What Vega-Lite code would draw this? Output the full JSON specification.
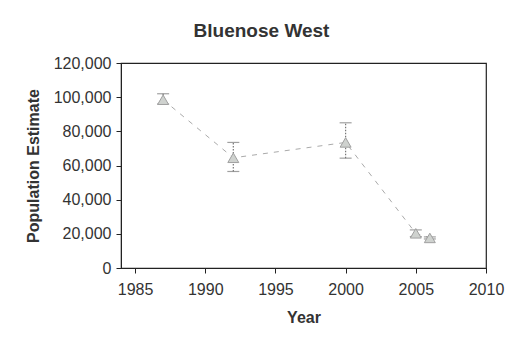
{
  "$schema": "https://vega.github.io/schema/vega-lite/v6.json",
  "autosize": {"type": "none"},
  "padding": {"left": 121, "top": 63, "right": 30, "bottom": 73},
  "width": 365,
  "height": 205,
  "background": "white",
  "title": {"text": "Bluenose West", "font": "Liberation Sans", "fontSize": 19, "fontWeight": "bold", "color": "#333", "anchor": "middle", "dx": -42, "offset": 14},
  "config": {
    "view": {"stroke": "#222", "strokeWidth": 1.2},
    "axis": {"labelFont": "Liberation Sans", "titleFont": "Liberation Sans", "labelFontSize": 16, "titleFontSize": 16, "labelColor": "#333", "titleColor": "#333", "grid": false, "domainColor": "#222", "tickColor": "#222", "tickSize": 5, "labelOverlap": false, "labelFlush": false}
  },
  "data": {"values": [
    {"year": 1987, "estimate": 98500, "lower": 96000, "upper": 102000},
    {"year": 1992, "estimate": 64500, "lower": 56500, "upper": 73500},
    {"year": 2000, "estimate": 73500, "lower": 64300, "upper": 85000},
    {"year": 2005, "estimate": 20300, "lower": 18400, "upper": 22300},
    {"year": 2006, "estimate": 17600, "lower": 17000, "upper": 18200}
  ]},
  "layer": [
    {
      "mark": {"type": "line", "color": "#aaa", "strokeWidth": 1, "strokeDash": [5, 6]},
      "encoding": {
        "x": {"field": "year", "type": "quantitative", "scale": {"domain": [1985, 2010]}, "axis": {"values": [1985, 1990, 1995, 2000, 2005, 2010], "labelExpr": "format(datum.value, 'd')", "title": "Year", "titlePadding": 12, "labelPadding": 8, "labelOverlap": false}},
        "y": {"field": "estimate", "type": "quantitative", "scale": {"domain": [0, 120000]}, "axis": {"values": [0, 20000, 40000, 60000, 80000, 100000, 120000], "labelExpr": "format(datum.value, ',')", "title": "Population Estimate", "titlePadding": 12, "labelPadding": 5, "labelOverlap": false}}
      }
    },
    {
      "mark": {"type": "rule", "color": "#777", "strokeWidth": 1.2, "strokeDash": [1.5, 1.5]},
      "encoding": {
        "x": {"field": "year", "type": "quantitative", "axis": {"values": [1985, 1990, 1995, 2000, 2005, 2010], "labelExpr": "format(datum.value, 'd')", "title": "Year", "titlePadding": 12, "labelPadding": 8, "labelOverlap": false}},
        "y": {"field": "lower", "type": "quantitative", "axis": {"values": [0, 20000, 40000, 60000, 80000, 100000, 120000], "labelExpr": "format(datum.value, ',')", "title": "Population Estimate", "titlePadding": 12, "labelPadding": 5, "labelOverlap": false}},
        "y2": {"field": "upper"}
      }
    },
    {
      "mark": {"type": "tick", "orient": "horizontal", "color": "#777", "size": 12, "thickness": 1.2, "strokeDash": [1.5, 1.5]},
      "encoding": {
        "x": {"field": "year", "type": "quantitative", "axis": {"values": [1985, 1990, 1995, 2000, 2005, 2010], "labelExpr": "format(datum.value, 'd')", "title": "Year", "titlePadding": 12, "labelPadding": 8, "labelOverlap": false}},
        "y": {"field": "lower", "type": "quantitative", "axis": {"values": [0, 20000, 40000, 60000, 80000, 100000, 120000], "labelExpr": "format(datum.value, ',')", "title": "Population Estimate", "titlePadding": 12, "labelPadding": 5, "labelOverlap": false}}
      }
    },
    {
      "mark": {"type": "tick", "orient": "horizontal", "color": "#777", "size": 12, "thickness": 1.2, "strokeDash": [1.5, 1.5]},
      "encoding": {
        "x": {"field": "year", "type": "quantitative", "axis": {"values": [1985, 1990, 1995, 2000, 2005, 2010], "labelExpr": "format(datum.value, 'd')", "title": "Year", "titlePadding": 12, "labelPadding": 8, "labelOverlap": false}},
        "y": {"field": "upper", "type": "quantitative", "axis": {"values": [0, 20000, 40000, 60000, 80000, 100000, 120000], "labelExpr": "format(datum.value, ',')", "title": "Population Estimate", "titlePadding": 12, "labelPadding": 5, "labelOverlap": false}}
      }
    },
    {
      "mark": {"type": "point", "shape": "triangle-up", "size": 120, "filled": true, "fill": "#cfd2cf", "stroke": "#a0a0a0", "strokeWidth": 1, "opacity": 1},
      "encoding": {
        "x": {"field": "year", "type": "quantitative", "axis": {"values": [1985, 1990, 1995, 2000, 2005, 2010], "labelExpr": "format(datum.value, 'd')", "title": "Year", "titlePadding": 12, "labelPadding": 8, "labelOverlap": false}},
        "y": {"field": "estimate", "type": "quantitative", "axis": {"values": [0, 20000, 40000, 60000, 80000, 100000, 120000], "labelExpr": "format(datum.value, ',')", "title": "Population Estimate", "titlePadding": 12, "labelPadding": 5, "labelOverlap": false}}
      }
    }
  ]
}
